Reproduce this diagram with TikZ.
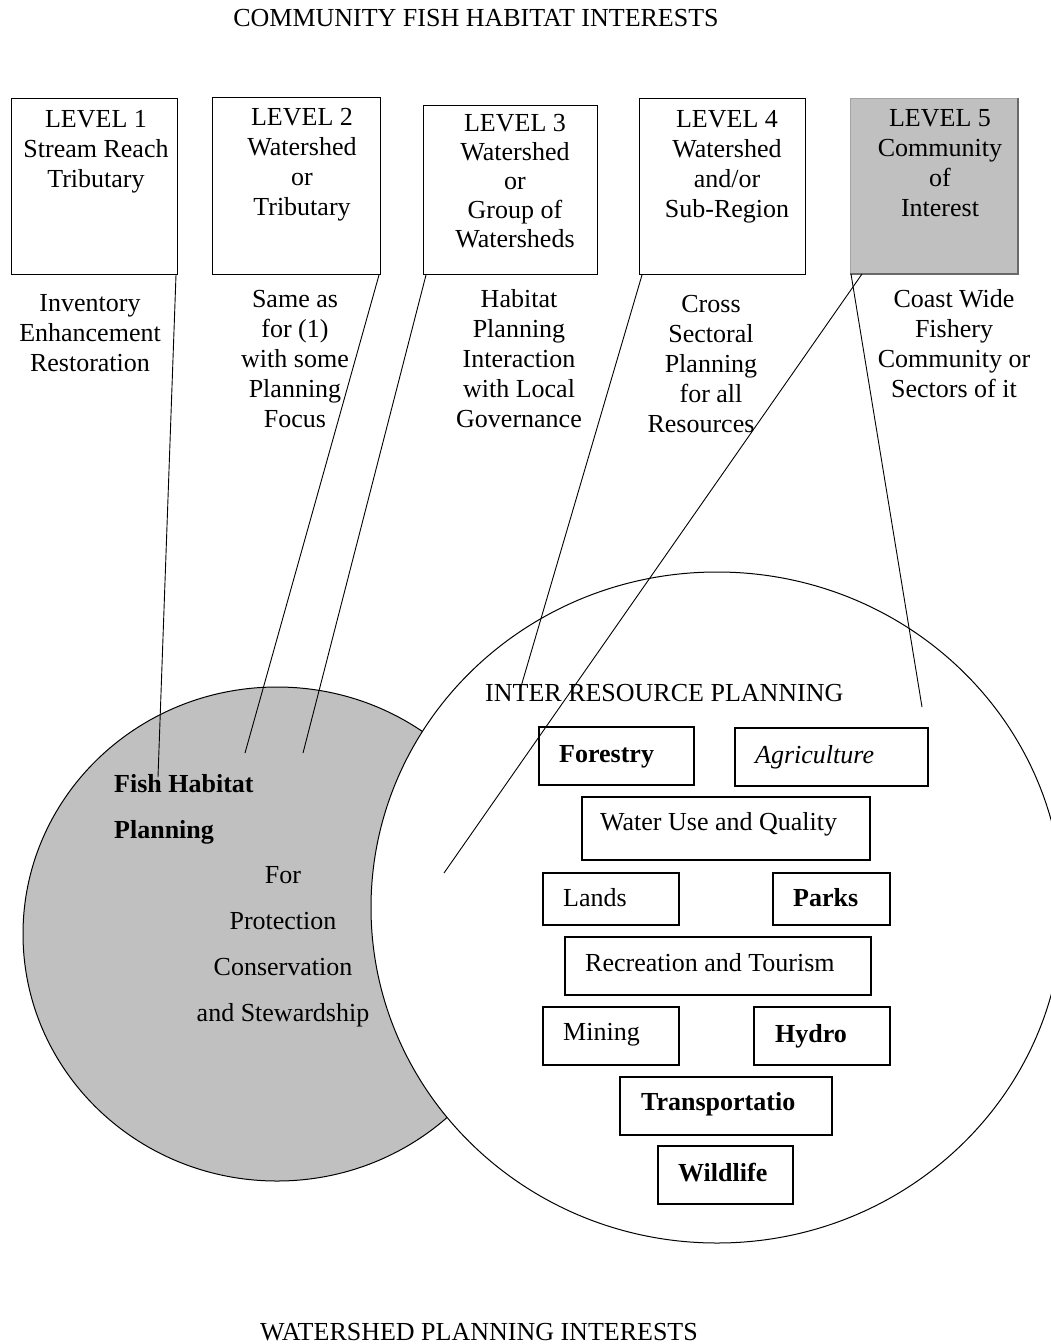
\documentclass[tikz,border=0pt]{standalone}
\usepackage{fontspec}
\setmainfont{Liberation Serif}
\usetikzlibrary{calc}
\definecolor{fishgray}{RGB}{192,192,192}
\definecolor{shadowgray}{RGB}{105,105,105}
\begin{document}
\begin{tikzpicture}[x=1pt,y=-1pt,
  lvlbox/.style={draw=black, line width=1pt, anchor=north west, inner sep=0pt},
  ibox/.style={draw=black, line width=1.6pt, anchor=north west, inner sep=0pt},
  txt/.style={font=\fontsize{26}{30}\selectfont, align=center, inner sep=0pt, anchor=north},
  itxt/.style={font=\fontsize{26}{30}\selectfont, inner sep=0pt, anchor=base west},
  ttl/.style={font=\fontsize{26}{30}\selectfont, inner sep=0pt, anchor=base},
  conn/.style={draw=black, line width=0.9pt},
]
\useasboundingbox (0,0) rectangle (1051,1344);
\begin{scope}
\clip (0,0) rectangle (1051,1344);
\fill[white] (0,0) rectangle (1051,1344);
\draw[fill=fishgray, line width=1pt] (277,934) ellipse [x radius=254, y radius=247];
\draw[fill=white, line width=1pt] (717,907.5) ellipse [x radius=346, y radius=335.5];
\end{scope}

% titles
\node[ttl] (top) at (476,26) {COMMUNITY FISH HABITAT INTERESTS};
\node[ttl] (bot) at (479,1340) {WATERSHED PLANNING INTERESTS};

% level boxes
\node[lvlbox, minimum width=166pt, minimum height=176pt] (L1) at (11,98) {};
\node[lvlbox, minimum width=168pt, minimum height=177pt] (L2) at (212,97) {};
\node[lvlbox, minimum width=174pt, minimum height=169pt] (L3) at (423,105) {};
\node[lvlbox, minimum width=166pt, minimum height=176pt] (L4) at (639,98) {};
\node[lvlbox, minimum width=167pt, minimum height=175pt, fill=fishgray, draw=fishgray!85!black] (L5) at (850,98) {};
\draw[shadowgray, line width=1.6pt] (L5.north east) -- (L5.south east) -- (L5.south west);

\node[txt] (t1) at (96,106) {\strut LEVEL 1\\Stream Reach\\Tributary};
\node[txt] (t2) at (302,104) {\strut LEVEL 2\\Watershed\\or\\Tributary};
\node[txt, font=\fontsize{26}{29}\selectfont] (t3) at (515,111) {\strut LEVEL 3\\Watershed\\or\\Group of\\Watersheds};
\node[txt] (t4) at (727,106) {\strut LEVEL 4\\Watershed\\and/or\\Sub-Region};
\node[txt] (t5) at (940,105) {\strut LEVEL 5\\Community\\of\\Interest};

% descriptions
\node[txt] (d1) at (90,290) {\strut Inventory\\Enhancement\\Restoration};
\node[txt] (d2) at (295,286) {\strut Same as\\for (1)\\with some\\Planning\\Focus};
\node[txt] (d3) at (519,286) {\strut Habitat\\Planning\\Interaction\\with Local\\Governance};
\node[txt] (d4) at (711,291) {\strut Cross\\Sectoral\\Planning\\for all\\Resources\hspace*{20pt}};
\node[txt] (d5) at (954,286) {\strut Coast Wide\\Fishery\\Community or\\Sectors of it};

% fish habitat text
\node[font=\fontsize{26}{46}\selectfont\bfseries, align=left, anchor=north west, inner sep=0pt] (fh) at (114,759.8) {\strut Fish Habitat\\Planning};
\node[font=\fontsize{26}{46}\selectfont, align=center, anchor=north, inner sep=0pt] (fp) at (283,850.8) {\strut For\\Protection\\Conservation\\and Stewardship};

% inter resource planning
\node[itxt] (irp) at (485,701) {INTER RESOURCE PLANNING};

\node[ibox, minimum width=155pt, minimum height=58pt] (forestry) at (538,726) {};
\node[ibox, minimum width=193pt, minimum height=58pt] (agri) at (734,727) {};
\node[ibox, minimum width=288pt, minimum height=63pt] (water) at (581,796) {};
\node[ibox, minimum width=136pt, minimum height=52pt] (lands) at (542,872) {};
\node[ibox, minimum width=117pt, minimum height=52pt] (parks) at (772,872) {};
\node[ibox, minimum width=306pt, minimum height=58pt] (recr) at (564,936) {};
\node[ibox, minimum width=136pt, minimum height=58pt] (mining) at (542,1006) {};
\node[ibox, minimum width=136pt, minimum height=58pt] (hydro) at (753,1006) {};
\node[ibox, minimum width=212pt, minimum height=58pt] (transp) at (619,1076) {};
\node[ibox, minimum width=135pt, minimum height=58pt] (wild) at (657,1145) {};

% connectors
\coordinate (e1) at (158,777);
\coordinate (e2) at (245,753);
\coordinate (e3) at (303,753);
\coordinate (e4) at (520,690);
\coordinate (e5a) at (444,873);
\coordinate (e5b) at (922,707);
\draw[conn] ([xshift=-2pt]L1.south east) -- (e1);
\draw[conn] ([xshift=-2pt]L2.south east) -- (e2);
\draw[conn] ([xshift=3pt]L3.south west) -- (e3);
\draw[conn] ([xshift=3pt]L4.south west) -- (e4);
\draw[conn] ([xshift=12pt]L5.south west) -- (e5a);
\draw[conn] ([xshift=1pt]L5.south west) -- (e5b);

\node[itxt] (tforestry) at ($(forestry.west)+(21,7)$) {\textbf{Forestry}};
\node[itxt] (tagri) at ($(agri.west)+(21,7)$) {\textit{Agriculture}};
\node[itxt] (twater) at ($(water.west)+(19,2.5)$) {Water Use and Quality};
\node[itxt] (tlands) at ($(lands.west)+(21,8)$) {Lands};
\node[itxt] (tparks) at ($(parks.west)+(21,8)$) {\textbf{Parks}};
\node[itxt] (trecr) at ($(recr.west)+(21,6)$) {Recreation and Tourism};
\node[itxt] (tmining) at ($(mining.west)+(21,5)$) {Mining};
\node[itxt] (thydro) at ($(hydro.west)+(22,7)$) {\textbf{Hydro}};
\node[itxt] (ttransp) at ($(transp.west)+(22,5)$) {\textbf{Transportatio}};
\node[itxt] (twild) at ($(wild.west)+(21,7)$) {\textbf{Wildlife}};
\end{tikzpicture}
\end{document}
